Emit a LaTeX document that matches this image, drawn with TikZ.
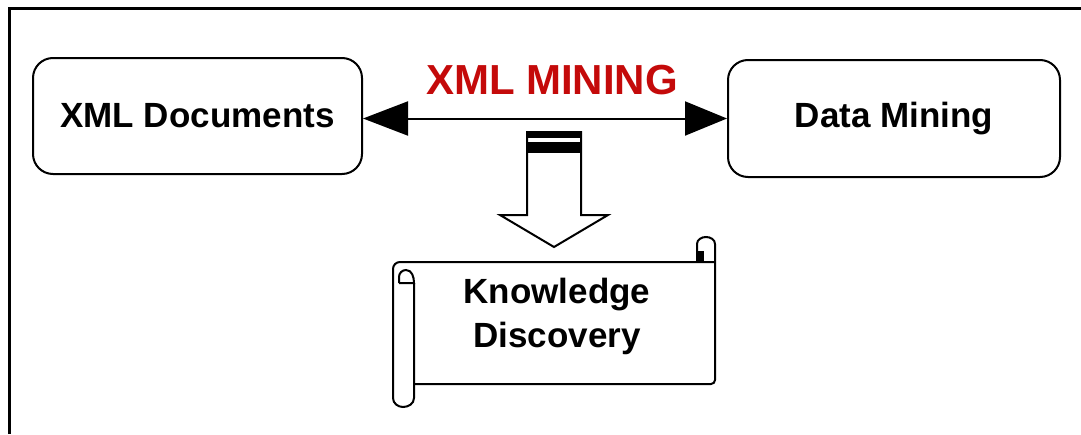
\documentclass[tikz,border=0pt]{standalone}
\usepackage{fontspec}
\setmainfont{Liberation Sans}
\usetikzlibrary{arrows.meta}
\definecolor{minred}{RGB}{196,10,10}
\tikzset{
  box/.style={draw, line width=2pt, rounded corners=20pt, inner sep=0pt,
    font=\fontsize{35}{42}\selectfont\bfseries},
  lbl/.style={font=\fontsize{35}{44}\selectfont\bfseries, align=center, inner sep=0pt},
  thick2/.style={line width=2pt},
  frame/.style={line width=3pt}
}
\begin{document}
\begin{tikzpicture}[x=1pt,y=-1pt]
\useasboundingbox (0,0) rectangle (1081,434);
% frame (top and left edges)
\draw[frame] (9,434) -- (9,8) -- (1081,8);
% boxes
\node[box, minimum width=329pt, minimum height=116pt] (docs) at (197.5,116) {XML Documents};
\node[box, minimum width=332pt, minimum height=117pt] (dm) at (894,118.5) {Data Mining};
% label
\node[font=\fontsize{42}{48}\selectfont\bfseries, text=minred, inner sep=0pt] (mining) at (552,80) {XML MINING};
% double-headed connector
\draw[thick2, {Triangle[length=45pt,width=34pt]}-{Triangle[length=42pt,width=34pt]}]
  (docs.east |- dm.west) -- (dm.west);
% block arrow down
\draw[thick2, line join=miter] (527,132) -- (527,215) -- (500,215) -- (554,247) -- (608,215) -- (581,215) -- (581,132) -- cycle;
\fill (526,131) rectangle (582,137.5);
\fill (526,142) rectangle (582,153);
% scroll
\draw[thick2] (393,398) -- (393,269) to[out=90,in=180] (400,262) -- (715,262);
\draw[thick2] (715,244) -- (715,380) to[out=-90,in=0] (711,384) -- (414,384);
\draw[thick2] (414,283) -- (414,398) to[out=-90,in=0] (403,407) to[out=180,in=-90] (393,398);
\draw[thick2] (399,283) -- (414,283) to[out=90,in=0] (406,270) to[out=180,in=90] (399,277) -- (399,283);
\draw[thick2] (697,262) -- (697,244) to[out=90,in=180] (706,237) to[out=0,in=90] (715,244);
\fill (697,251) rectangle (704,262);
\node[lbl] (kd) at (557,316) {Knowledge\\Discovery};
\end{tikzpicture}
\end{document}
